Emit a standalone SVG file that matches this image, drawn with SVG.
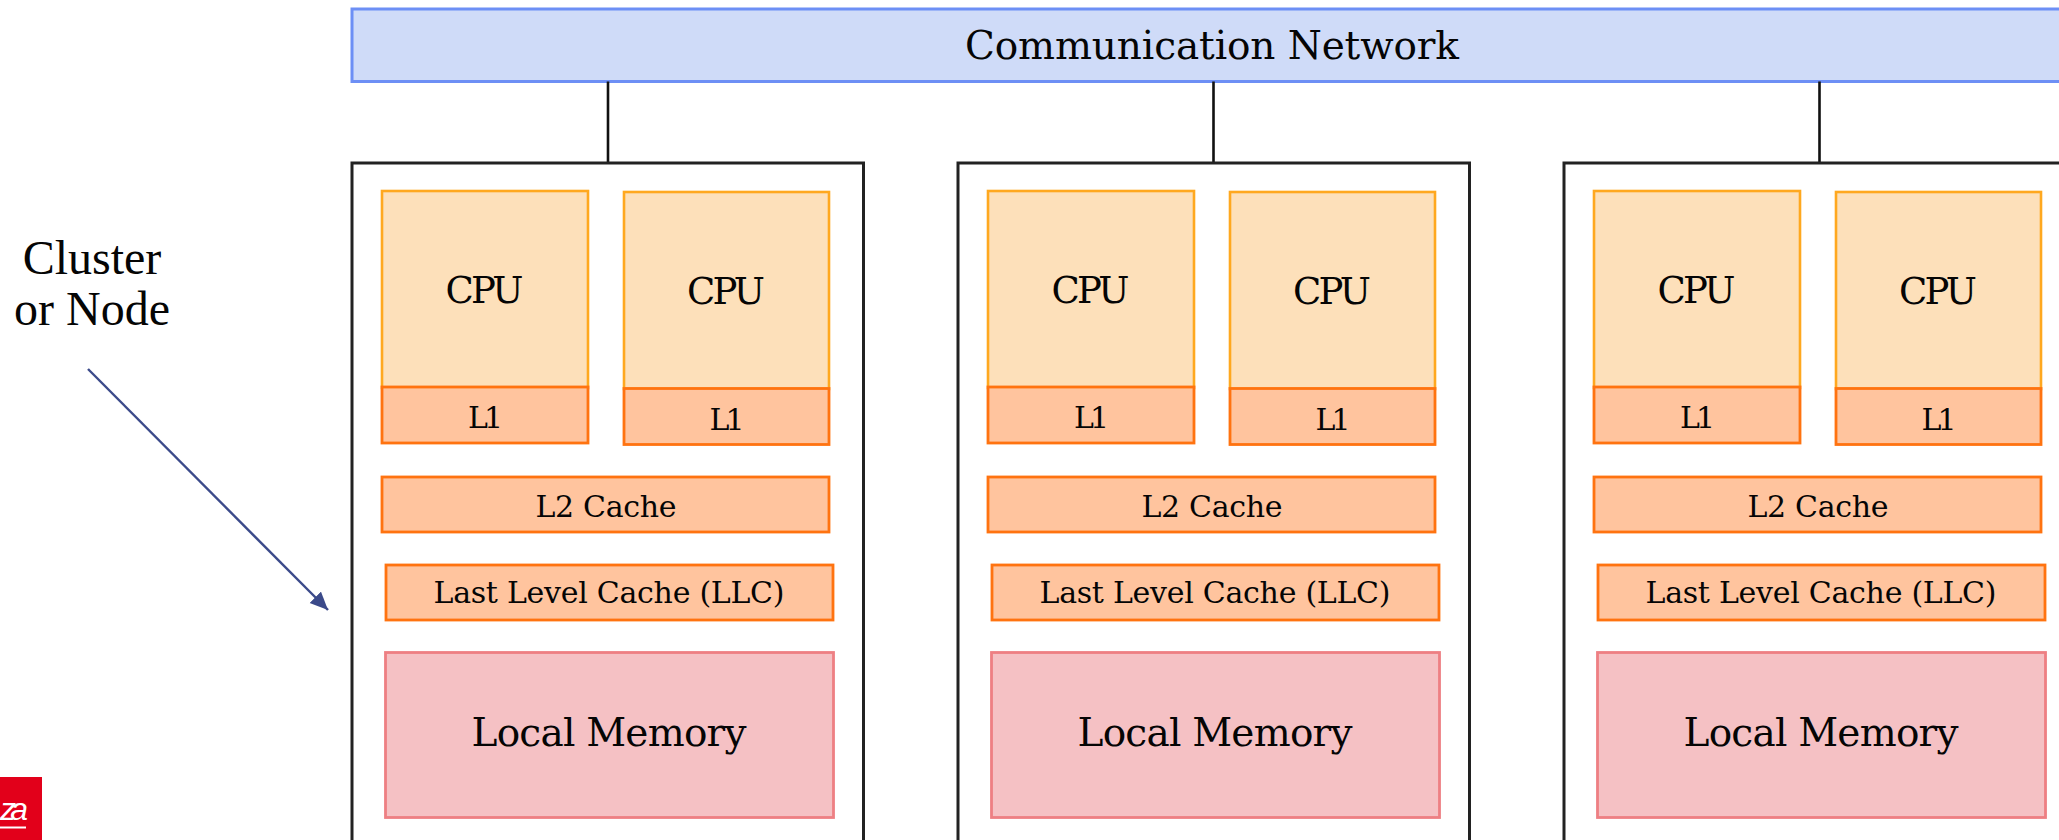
<svg xmlns="http://www.w3.org/2000/svg" width="2059" height="840" viewBox="0 0 2059 840">
<style>
text{font-family:"DejaVu Serif","Liberation Serif",serif;fill:#050505;text-anchor:middle}
.net{fill:#cfdbf8;stroke:#6d8ff5;stroke-width:3}
.cl{fill:#fff;stroke:#222;stroke-width:3}
.cpu{fill:#fde0ba;stroke:#ffa81f;stroke-width:2.6}
.ca{fill:#ffc49e;stroke:#ff7310;stroke-width:2.8}
.mem{fill:#f5c1c4;stroke:#ee7f83;stroke-width:2.8}
.c{stroke:#111;stroke-width:2.6;fill:none}
.big{font-size:39px}
.cp{font-size:37px}
.mid{font-size:30px}
.lab{font-family:"Liberation Serif",serif;font-size:48px}
</style>
<defs>
<marker id="ah" markerUnits="userSpaceOnUse" markerWidth="20" markerHeight="20" refX="18" refY="8" orient="auto"><path d="M0 0L18 8L0 16Z" fill="#3b4a8a"/></marker>
</defs>
<rect width="2059" height="840" fill="#fff"/>
<g id="logo"><rect x="0" y="777" width="42" height="63" fill="#e2001a"/><text x="14" y="820" style="font-family:'Liberation Sans',sans-serif;font-style:italic;fill:#fff;font-size:32px" textLength="28">za</text><rect x="0" y="826.5" width="26" height="2" fill="#fff"/></g>
<g id="label"><text class="lab" x="92" y="274">Cluster</text><text class="lab" x="92" y="325">or Node</text></g>
<g id="network"><rect class="net" x="352" y="9" width="1730" height="72.5"/><text class="big" x="1212" y="59" textLength="494">Communication Network</text></g>
<g id="connectors">
<path class="c" d="M608 81.5V163M1213.500 81.500V163M1819.500 81.500V163"/>
<path d="M88 369L328 610" stroke="#3b4a8a" stroke-width="2.4" marker-end="url(#ah)"/>
</g>
<g id="cluster1"><rect class="cl" x="352" y="163" width="511.500" height="700"/>
<g id="cpu1a"><rect class="cpu" x="382" y="191" width="206" height="197"/><text class="cp" x="484.500" y="303" textLength="78">CPU</text></g>
<g id="l1a"><rect class="ca" x="382" y="387" width="206" height="56"/><text class="mid" x="485.500" y="428" textLength="35">L1</text></g>
<g id="cpu1b"><rect class="cpu" x="624" y="192" width="205" height="197"/><text class="cp" x="726" y="304" textLength="78">CPU</text></g>
<g id="l1b"><rect class="ca" x="624" y="388.500" width="205" height="56"/><text class="mid" x="727" y="429.500" textLength="35">L1</text></g>
<g id="l2-1"><rect class="ca" x="382" y="477" width="447" height="55"/><text class="mid" x="606" y="516.500" textLength="141">L2 Cache</text></g>
<g id="llc-1"><rect class="ca" x="386" y="565" width="447" height="55"/><text class="mid" x="609" y="603" textLength="351">Last Level Cache (LLC)</text></g>
<g id="mem-1"><rect class="mem" x="385.500" y="652.500" width="448" height="165"/><text class="big" x="609" y="746" textLength="275">Local Memory</text></g>
</g>
<g id="cluster2" transform="translate(606 0)"><rect class="cl" x="352" y="163" width="511.500" height="700"/>
<g id="cpu2a"><rect class="cpu" x="382" y="191" width="206" height="197"/><text class="cp" x="484.500" y="303" textLength="78">CPU</text></g>
<g id="l2a"><rect class="ca" x="382" y="387" width="206" height="56"/><text class="mid" x="485.500" y="428" textLength="35">L1</text></g>
<g id="cpu2b"><rect class="cpu" x="624" y="192" width="205" height="197"/><text class="cp" x="726" y="304" textLength="78">CPU</text></g>
<g id="l2b"><rect class="ca" x="624" y="388.500" width="205" height="56"/><text class="mid" x="727" y="429.500" textLength="35">L1</text></g>
<g id="l2-2"><rect class="ca" x="382" y="477" width="447" height="55"/><text class="mid" x="606" y="516.500" textLength="141">L2 Cache</text></g>
<g id="llc-2"><rect class="ca" x="386" y="565" width="447" height="55"/><text class="mid" x="609" y="603" textLength="351">Last Level Cache (LLC)</text></g>
<g id="mem-2"><rect class="mem" x="385.500" y="652.500" width="448" height="165"/><text class="big" x="609" y="746" textLength="275">Local Memory</text></g>
</g>
<g id="cluster3" transform="translate(1212 0)"><rect class="cl" x="352" y="163" width="511.500" height="700"/>
<g id="cpu3a"><rect class="cpu" x="382" y="191" width="206" height="197"/><text class="cp" x="484.500" y="303" textLength="78">CPU</text></g>
<g id="l3a"><rect class="ca" x="382" y="387" width="206" height="56"/><text class="mid" x="485.500" y="428" textLength="35">L1</text></g>
<g id="cpu3b"><rect class="cpu" x="624" y="192" width="205" height="197"/><text class="cp" x="726" y="304" textLength="78">CPU</text></g>
<g id="l3b"><rect class="ca" x="624" y="388.500" width="205" height="56"/><text class="mid" x="727" y="429.500" textLength="35">L1</text></g>
<g id="l2-3"><rect class="ca" x="382" y="477" width="447" height="55"/><text class="mid" x="606" y="516.500" textLength="141">L2 Cache</text></g>
<g id="llc-3"><rect class="ca" x="386" y="565" width="447" height="55"/><text class="mid" x="609" y="603" textLength="351">Last Level Cache (LLC)</text></g>
<g id="mem-3"><rect class="mem" x="385.500" y="652.500" width="448" height="165"/><text class="big" x="609" y="746" textLength="275">Local Memory</text></g>
</g>
</svg>
